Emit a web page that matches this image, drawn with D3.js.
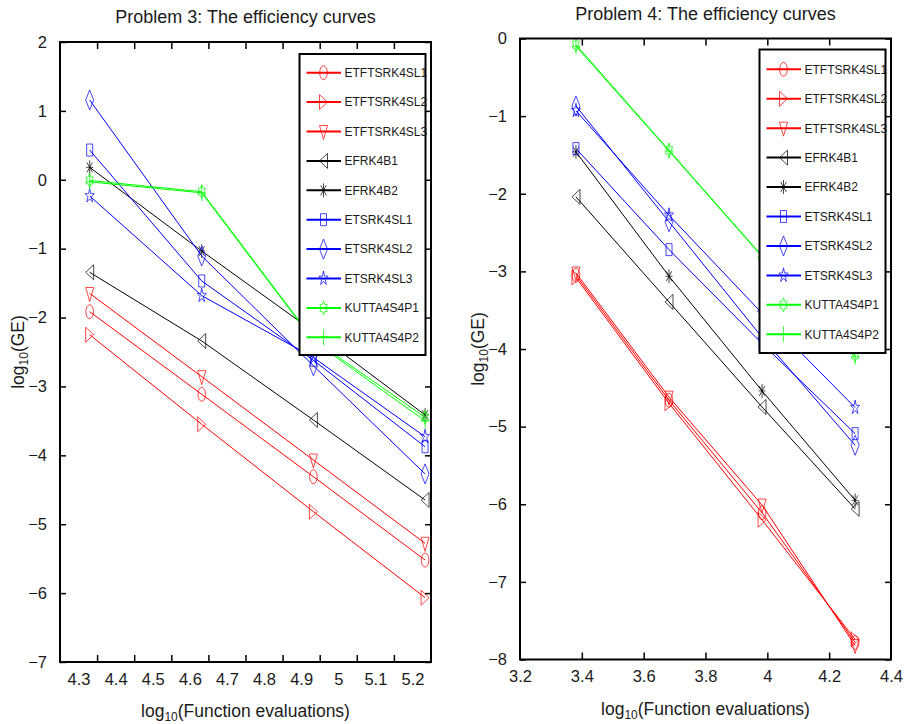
<!DOCTYPE html>
<html><head><meta charset="utf-8">
<script src="https://cdn.jsdelivr.net/npm/d3@7"></script>
<style>
html,body{margin:0;padding:0;background:#fff;}
text{font-family:"Liberation Sans",Arial,sans-serif;fill:#1a1a1a;}
</style></head>
<body>
<svg id="chart" width="911" height="724"></svg>
<script>
// ---------- data ----------
const seriesNames = ["ETFTSRK4SL1","ETFTSRK4SL2","ETFTSRK4SL3","EFRK4B1","EFRK4B2","ETSRK4SL1","ETSRK4SL2","ETSRK4SL3","KUTTA4S4P1","KUTTA4S4P2"];
const seriesColors = ["#ff0000","#ff0000","#ff0000","#000000","#000000","#0000ff","#0000ff","#0000ff","#00ff00","#00ff00"];
const seriesMarkers = ["circle","triRight","triDown","triLeft","asterisk","square","diamond","pentagram","hexagram","plus"];

// Problem 3
const p3X = [4.33, 4.632, 4.933, 5.234];
const p3_ETFTSRK4SL1 = [-1.915, -3.114, -4.31, -5.52];
const p3_ETFTSRK4SL2 = [-2.25, -3.549, -4.818, -6.066];
const p3_ETFTSRK4SL3 = [-1.65, -2.858, -4.068, -5.277];
const p3_EFRK4B1 = [-1.343, -2.34, -3.487, -4.648];
const p3_EFRK4B2 = [0.18, -1.034, -2.2, -3.414];
const p3_ETSRK4SL1 = [0.432, -1.469, -2.62, -3.875];
const p3_ETSRK4SL2 = [1.158, -1.106, -2.7, -4.27];
const p3_ETSRK4SL3 = [-0.235, -1.682, -2.58, -3.73];
const p3_KUTTA4S4P1 = [-0.01, -0.173, -2.32, -3.448];
const p3_KUTTA4S4P2 = [-0.03, -0.19, -2.34, -3.5];
const p3XLabels = [4.3, 4.4, 4.5, 4.6, 4.7, 4.8, 4.9, 5.0, 5.1, 5.2];
const p3XMarks = [4.35, 4.45, 4.55, 4.65, 4.75, 4.85, 4.95, 5.05, 5.15];
const p3YTicks = [2, 1, 0, -1, -2, -3, -4, -5, -6, -7];

// Problem 4
const p4X = [3.381, 3.682, 3.983, 4.284];
const p4_ETFTSRK4SL1 = [-3.05, -4.66, -6.11, -7.78];
const p4_ETFTSRK4SL2 = [-3.08, -4.70, -6.2, -7.74];
const p4_ETFTSRK4SL3 = [-3.02, -4.62, -6.01, -7.82];
const p4_EFRK4B1 = [-2.04, -3.394, -4.747, -6.06];
const p4_EFRK4B2 = [-1.46, -3.063, -4.54, -5.95];
const p4_ETSRK4SL1 = [-1.418, -2.72, -3.93, -5.09];
const p4_ETSRK4SL2 = [-0.87, -2.36, -3.85, -5.24];
const p4_ETSRK4SL3 = [-0.93, -2.277, -3.54, -4.755];
const p4_KUTTA4S4P1 = [-0.08, -1.44, -2.8, -4.08];
const p4_KUTTA4S4P2 = [-0.1, -1.45, -2.81, -4.1];
const p4XLabels = [3.2, 3.4, 3.6, 3.8, 4.0, 4.2, 4.4];
const p4XMarks = [3.4, 3.6, 3.8, 4.0, 4.2];
const p4YTicks = [0, -1, -2, -3, -4, -5, -6, -7, -8];

const p3Series = [p3_ETFTSRK4SL1,p3_ETFTSRK4SL2,p3_ETFTSRK4SL3,p3_EFRK4B1,p3_EFRK4B2,p3_ETSRK4SL1,p3_ETSRK4SL2,p3_ETSRK4SL3,p3_KUTTA4S4P1,p3_KUTTA4S4P2];
const p4Series = [p4_ETFTSRK4SL1,p4_ETFTSRK4SL2,p4_ETFTSRK4SL3,p4_EFRK4B1,p4_EFRK4B2,p4_ETSRK4SL1,p4_ETSRK4SL2,p4_ETSRK4SL3,p4_KUTTA4S4P1,p4_KUTTA4S4P2];

// ---------- markers ----------
function starPath(n, rOut, rIn, sx, sy){
  const pts=[];
  for(let i=0;i<2*n;i++){
    const a = -Math.PI/2 + i*Math.PI/n;
    const r = i%2===0 ? rOut : rIn;
    pts.push([Math.cos(a)*r*sx, Math.sin(a)*r*sy]);
  }
  return "M"+pts.map(p=>p[0].toFixed(2)+","+p[1].toFixed(2)).join("L")+"Z";
}
function markerPath(t){
  switch(t){
    case "circle": return "M-3.8,0A3.8,7 0 1,0 3.8,0A3.8,7 0 1,0 -3.8,0Z";
    case "triRight": return "M-4,-7.5L4,0L-4,7.5Z";
    case "triLeft": return "M4,-7.5L-4,0L4,7.5Z";
    case "triDown": return "M-4,-6L4,-6L0,8Z";
    case "square": return "M-3,-6H3V6H-3Z";
    case "diamond": return "M0,-10L4,0L0,10L-4,0Z";
    case "asterisk": return "M0,-7V7M-3.5,0H3.5M-2.8,-5L2.8,5M-2.8,5L2.8,-5";
    case "plus": return "M0,-8V8M-4.5,0H4.5";
    case "pentagram": return starPath(5,1,0.382,4.8,7.5);
    case "hexagram": return starPath(6,1,0.577,4.2,7);
  }
}

const svg = d3.select("#chart");
const TICKFS = 16.5;

function drawPanel(cfg){
  const x = d3.scaleLinear().domain(cfg.xDomain).range([cfg.left, cfg.right]);
  const y = d3.scaleLinear().domain(cfg.yDomain).range([cfg.bottom, cfg.top]);
  const g = svg.append("g");
  const fmt = v => (v<0 ? "\u2212" : "") + d3.format("")(Math.abs(v));

  // series
  cfg.series.forEach((vals,i)=>{
    const pts = cfg.xs.map((xv,j)=>[x(xv), y(vals[j])]);
    g.append("path").attr("d", d3.line()(pts))
      .attr("fill","none").attr("stroke",seriesColors[i]).attr("stroke-width",1);
    g.selectAll(null).data(pts).enter().append("path")
      .attr("d", markerPath(seriesMarkers[i]))
      .attr("transform", p=>`translate(${p[0]},${p[1]})`)
      .attr("fill","none").attr("stroke",seriesColors[i]).attr("stroke-width",0.9).attr("stroke-opacity",0.8);
  });

  // axes
  const ax = svg.append("g");
  const bl = ax.append("g").attr("transform",`translate(0,${cfg.bottom})`)
    .call(d3.axisBottom(x).tickValues(cfg.xLabels).tickSize(0).tickPadding(11).tickFormat(fmt));
  bl.select(".domain").remove();
  bl.selectAll("text").attr("font-size",TICKFS).attr("font-family","Liberation Sans, Arial, sans-serif").attr("fill","#1a1a1a");
  const bm = ax.append("g").attr("transform",`translate(0,${cfg.bottom})`)
    .call(d3.axisBottom(x).tickValues(cfg.xMarks).tickSize(-7).tickFormat(""));
  bm.select(".domain").remove();
  const tm = ax.append("g").attr("transform",`translate(0,${cfg.top})`)
    .call(d3.axisTop(x).tickValues(cfg.xMarks).tickSize(-7).tickFormat(""));
  tm.select(".domain").remove();
  const la = ax.append("g").attr("transform",`translate(${cfg.left},0)`)
    .call(d3.axisLeft(y).tickValues(cfg.yTicks).tickSize(-6).tickPadding(13).tickFormat(fmt));
  la.select(".domain").remove();
  la.selectAll("text").attr("font-size",TICKFS).attr("font-family","Liberation Sans, Arial, sans-serif").attr("fill","#1a1a1a");
  const ra = ax.append("g").attr("transform",`translate(${cfg.right},0)`)
    .call(d3.axisRight(y).tickValues(cfg.yTicks).tickSize(-6).tickFormat(""));
  ra.select(".domain").remove();
  ax.selectAll(".tick line").attr("stroke","#000").attr("stroke-width",1.5);

  // box
  svg.append("rect").attr("x",cfg.left).attr("y",cfg.top)
    .attr("width",cfg.right-cfg.left).attr("height",cfg.bottom-cfg.top)
    .attr("fill","none").attr("stroke","#000").attr("stroke-width",2);

  // title
  svg.append("text").attr("x",(cfg.left+cfg.right)/2).attr("y",cfg.top-19)
    .attr("text-anchor","middle").attr("font-size",18).text(cfg.title);

  // x label
  const xl = svg.append("text").attr("x",(cfg.left+cfg.right)/2).attr("y",cfg.bottom+55)
    .attr("text-anchor","middle").attr("font-size",17.5);
  xl.append("tspan").text("log");
  xl.append("tspan").attr("font-size",12).attr("dy",4).text("10");
  xl.append("tspan").attr("dy",-4).text("(Function evaluations)");

  // y label
  const yl = svg.append("text")
    .attr("transform",`translate(${cfg.ylabelX},${(cfg.top+cfg.bottom)/2}) rotate(-90)`)
    .attr("text-anchor","middle").attr("font-size",17.5);
  yl.append("tspan").text("log");
  yl.append("tspan").attr("font-size",12).attr("dy",4).text("10");
  yl.append("tspan").attr("dy",-4).text("(GE)");

  // legend
  const lg = svg.append("g");
  lg.append("rect").attr("x",cfg.leg.x0).attr("y",cfg.leg.y0)
    .attr("width",cfg.leg.x1-cfg.leg.x0).attr("height",cfg.leg.y1-cfg.leg.y0)
    .attr("fill","#fff").attr("stroke","#000").attr("stroke-width",2);
  seriesNames.forEach((nm,i)=>{
    const yy = cfg.leg.row0 + i*cfg.leg.step;
    const lx0 = cfg.leg.x0+7, lx1 = cfg.leg.x0+41.5, mx = cfg.leg.x0+24;
    lg.append("line").attr("x1",lx0).attr("x2",lx1).attr("y1",yy).attr("y2",yy)
      .attr("stroke",seriesColors[i]).attr("stroke-width",2);
    lg.append("path").attr("d",markerPath(seriesMarkers[i]))
      .attr("transform",`translate(${mx},${yy})`)
      .attr("fill","none").attr("stroke",seriesColors[i]).attr("stroke-width",0.9).attr("stroke-opacity",0.8);
    lg.append("text").attr("x",cfg.leg.x0+45).attr("y",yy).attr("dy","0.36em")
      .attr("font-size",12).text(nm);
  });
}

drawPanel({
  title:"Problem 3: The efficiency curves",
  left:60, right:431, top:42, bottom:662,
  xDomain:[4.25,5.25], yDomain:[-7,2],
  xs:p3X, series:p3Series, xLabels:p3XLabels, xMarks:p3XMarks, yTicks:p3YTicks,
  ylabelX:24,
  leg:{x0:299.5, y0:54, x1:425.5, y1:355, row0:72.7, step:29.4}
});
drawPanel({
  title:"Problem 4: The efficiency curves",
  left:520, right:891, top:38.5, bottom:659.5,
  xDomain:[3.2,4.4], yDomain:[-8,0],
  xs:p4X, series:p4Series, xLabels:p4XLabels, xMarks:p4XMarks, yTicks:p4YTicks,
  ylabelX:484,
  leg:{x0:759.5, y0:49.5, x1:885.5, y1:353, row0:69.3, step:29.44}
});
</script>
</body></html>
